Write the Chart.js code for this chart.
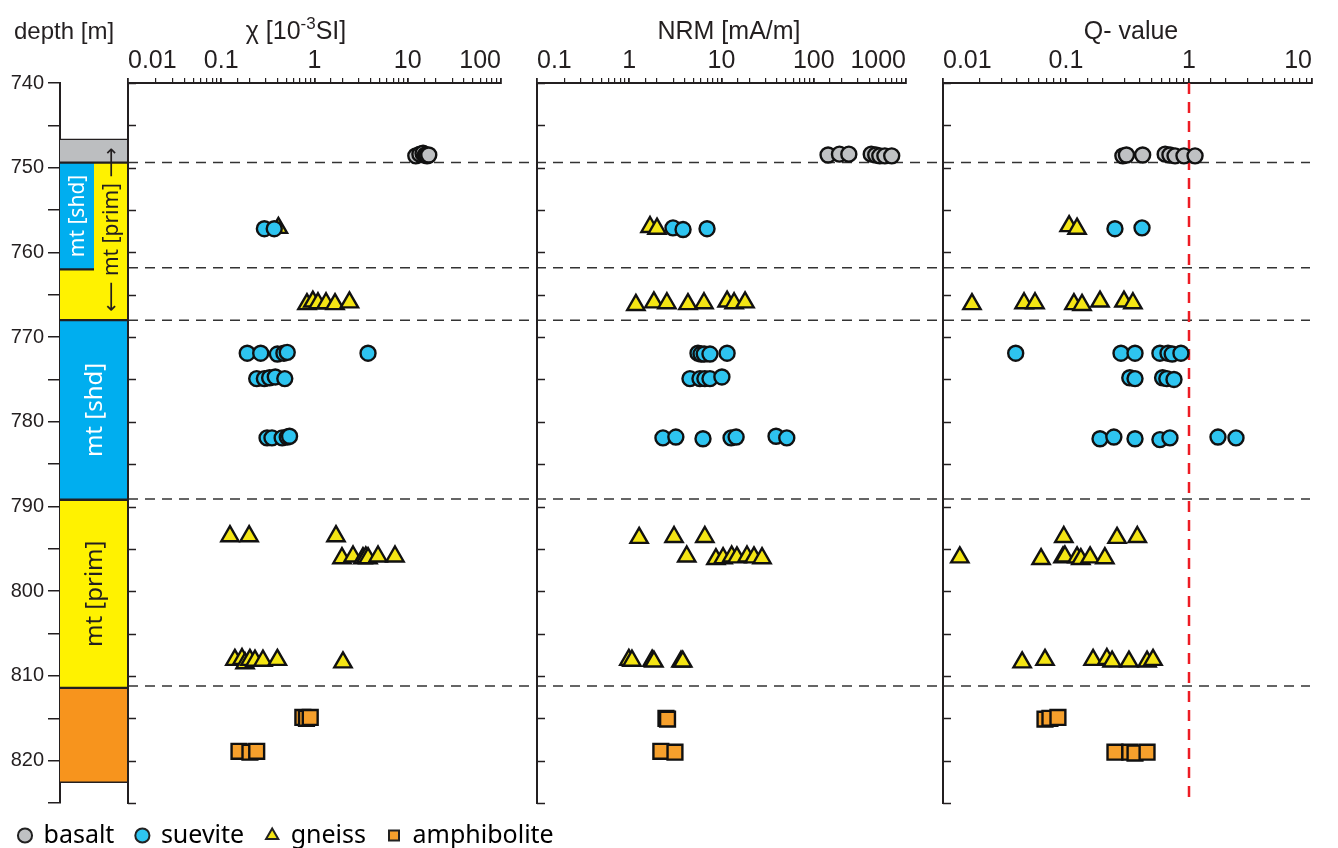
<!DOCTYPE html>
<html>
<head>
<meta charset="utf-8">
<title>Magnetic properties vs depth</title>
<script src="https://cdn.jsdelivr.net/npm/chart.js@4.4.1/dist/chart.umd.min.js"></script>
<style>
  body { margin: 0; background: #fff; }
  #wrap { position: relative; width: 1338px; height: 848px; overflow: hidden; font-family: "Liberation Sans", Arial, sans-serif; color: #231f20; }
  #wrap canvas { position: absolute; }
  .title { position: absolute; font-size: 25px; line-height: 25px; white-space: nowrap; transform: translateX(-50%); }
  .title sup { font-size: 17px; vertical-align: 10px; line-height: 0; }
</style>
</head>
<body>
<div id="wrap">
  <canvas id="boundaryChart" width="1182" height="720" style="left:128px;top:83px"></canvas>
  <canvas id="columnChart" width="128" height="848" style="left:0;top:0"></canvas>
  <canvas id="chiChart" width="413" height="848" style="left:118px;top:0"></canvas>
  <canvas id="nrmChart" width="409" height="848" style="left:527px;top:0"></canvas>
  <canvas id="qChart" width="399" height="848" style="left:933px;top:0"></canvas>
  <canvas id="legendChart" width="700" height="160" style="left:-3px;top:801px"></canvas>
  <div class="title" style="left:14px;top:18px;transform:none;font-size:24px">depth [m]</div>
  <div class="title" style="left:296px;top:18px">χ [10<sup>-3</sup>SI]</div>
  <div class="title" style="left:729px;top:18px">NRM [mA/m]</div>
  <div class="title" style="left:1131px;top:18px">Q- value</div>
</div>
<script>
// depth axis (m)
const depthMin = 740;
const depthMax = 825;
const depthStep = 5;
const boundaryDepths = [749.4, 761.8, 768.0, 789.1, 811.2];

// lithology column, [top, base] of each unit in the left and right half
const unitNames = ["basalt", "mt [shd]", "mt [prim]", "mt [shd]", "mt [prim]", "amphibolite"];
const unitLeft = [[746.6, 749.4], [749.4, 762.0], [762.0, 768.0], [768.0, 789.2], [789.2, 811.4], [811.4, 822.6]];
const unitRight = [[746.6, 749.4], null, [749.4, 768.0], [768.0, 789.2], [789.2, 811.4], [811.4, 822.6]];

// text written into the column
const columnLabels = ["mt [shd]", "\u27F5 mt [prim] \u27F6", "mt [shd]", "mt [prim]"];
const labelSpans = [[749.4, 762.0], [746.6, 768.0], [768.0, 789.2], [789.2, 811.4]];
const labelColumns = [0, 1, 0.5, 0.5];

// tick labels of the three log axes
const chiTicks = ["0.01", "0.1", "1", "10", "100"];
const nrmTicks = ["0.1", "1", "10", "100", "1000"];
const qTicks = ["0.01", "0.1", "1", "10"];
const qReference = 1;

const rockTypes = ["basalt", "suevite", "gneiss", "amphibolite"];

// susceptibility [value, depth]
const chiBasalt = [[12.2, 748.6], [13.5, 748.4], [14.6, 748.3], [15.5, 748.5], [16.1, 748.6], [16.8, 748.5]];
const chiSuevite = [[0.29, 757.2], [0.37, 757.2],
  [0.19, 771.9], [0.265, 771.9], [0.40, 772.0], [0.47, 771.9], [0.51, 771.8], [3.75, 771.9],
  [0.24, 774.9], [0.29, 774.9], [0.33, 774.8], [0.38, 774.7], [0.48, 774.9],
  [0.31, 781.9], [0.35, 781.9], [0.45, 781.9], [0.51, 781.8], [0.54, 781.7]];
const chiGneiss = [[0.41, 757.1],
  [0.83, 766.1], [0.96, 765.8], [1.09, 766.0], [1.33, 766.0], [1.66, 766.1], [2.37, 765.9],
  [0.124, 793.5], [0.199, 793.5], [1.70, 793.5],
  [1.97, 796.1], [2.59, 795.9], [3.31, 796.1], [3.55, 796.0], [3.75, 796.1], [4.8, 795.9], [7.3, 795.9],
  [0.14, 808.1], [0.167, 808.0], [0.18, 808.5], [0.203, 808.1], [0.23, 808.2], [0.28, 808.2], [0.40, 808.1], [2.02, 808.4]];
const chiAmphibolite = [[0.75, 814.9], [0.82, 815.0], [0.9, 814.9], [0.155, 818.9], [0.203, 819.0], [0.24, 818.9]];

// NRM [value, depth]
const nrmBasalt = [[143, 748.5], [190, 748.4], [240, 748.4], [420, 748.4], [470, 748.5], [520, 748.6], [590, 748.6], [700, 748.6]];
const nrmSuevite = [[2.98, 757.1], [3.83, 757.3], [6.97, 757.2],
  [5.56, 771.9], [6.0, 772.0], [6.5, 772.0], [7.5, 772.0], [11.5, 771.9],
  [4.55, 774.9], [5.84, 774.9], [6.6, 774.9], [7.5, 774.9], [10.1, 774.7],
  [2.32, 781.9], [3.2, 781.8], [6.3, 782.0], [12.7, 781.9], [14.4, 781.8], [39, 781.7], [51, 781.9]];
const nrmGneiss = [[1.68, 757.0], [2.0, 757.2],
  [1.18, 766.2], [1.85, 765.9], [2.56, 766.0], [4.33, 766.1], [6.46, 766.0], [11.5, 765.8], [13.7, 766.0], [18, 765.9],
  [1.28, 793.7], [3.06, 793.6], [6.6, 793.6],
  [4.2, 795.9], [8.7, 796.2], [10.4, 796.1], [12.9, 795.9], [14.7, 796.0], [18.9, 795.9], [22.5, 796.0], [27.5, 796.1],
  [0.99, 808.1], [1.07, 808.2], [1.77, 808.2], [1.85, 808.3], [3.64, 808.3], [3.8, 808.3]];
const nrmAmphibolite = [[2.5, 815.0], [2.6, 815.1], [2.2, 818.9], [3.13, 819.0]];

// Q-value [value, depth]
const qBasalt = [[0.29, 748.6], [0.31, 748.5], [0.42, 748.5], [0.64, 748.4], [0.70, 748.5], [0.77, 748.6], [0.91, 748.6], [1.12, 748.6]];
const qSuevite = [[0.25, 757.2], [0.415, 757.1],
  [0.039, 771.9], [0.28, 771.9], [0.364, 771.9], [0.58, 771.9], [0.675, 771.9], [0.73, 772.0], [0.86, 771.9],
  [0.33, 774.8], [0.364, 774.9], [0.61, 774.8], [0.66, 774.9], [0.755, 775.0],
  [0.189, 782.0], [0.245, 781.8], [0.364, 782.0], [0.58, 782.1], [0.70, 781.9], [1.72, 781.8], [2.41, 781.9]];
const qGneiss = [[0.106, 756.9], [0.123, 757.2],
  [0.0172, 766.1], [0.0456, 766.0], [0.056, 766.0], [0.116, 766.1], [0.135, 766.2], [0.189, 765.8], [0.296, 765.8], [0.35, 766.0],
  [0.096, 793.6], [0.26, 793.7], [0.38, 793.6],
  [0.0137, 796.0], [0.0627, 796.2], [0.0946, 796.0], [0.098, 795.9], [0.123, 796.0], [0.132, 796.2], [0.157, 796.0], [0.207, 796.1],
  [0.044, 808.4], [0.0675, 808.1], [0.166, 808.1], [0.215, 808.0], [0.237, 808.3], [0.325, 808.3], [0.456, 808.3], [0.51, 808.1]];
const qAmphibolite = [[0.0675, 815.1], [0.074, 815.0], [0.086, 814.9], [0.25, 819.0], [0.33, 819.0], [0.364, 819.1], [0.456, 819.0]];

// styles
const ink = "#231f20";
const unitColors = {
  "basalt": "#bcbec0",
  "mt [shd]": "#00aeef",
  "mt [prim]": "#fff200",
  "amphibolite": "#f7941d"
};
const labelColors = ["#ffffff", ink, "#ffffff", ink];
const labelSizes = [21, 21, 24, 24];
const rockStyle = {
  basalt: { shape: "circle", radius: 7.5, fill: "#bfc1c3" },
  suevite: { shape: "circle", radius: 7.5, fill: "#2ec4f0" },
  gneiss: { shape: "triangle", radius: 10, fill: "#f4e514" },
  amphibolite: { shape: "rect", radius: 10.5, fill: "#f6a02c" }
};

Chart.defaults.font.family = '"Liberation Sans", Arial, sans-serif';
Chart.defaults.color = ink;
Chart.defaults.animation = false;

// short inward ticks along the left axis of each panel
const innerTicks = {
  id: "innerTicks",
  afterDraw(chart) {
    const { ctx, chartArea, scales } = chart;
    ctx.save();
    ctx.strokeStyle = ink;
    ctx.lineWidth = 1.5;
    scales.y.ticks.forEach((t) => {
      const py = Math.round(scales.y.getPixelForValue(t.value)) + 0.5;
      ctx.beginPath();
      ctx.moveTo(chartArea.left, py);
      ctx.lineTo(chartArea.left + 8, py);
      ctx.stroke();
    });
    ctx.restore();
  }
};

// unit names written vertically in the column
const columnText = {
  id: "columnText",
  afterDatasetsDraw(chart) {
    const { ctx, scales } = chart;
    columnLabels.forEach((text, i) => {
      const cx = scales.x.getPixelForValue(labelColumns[i]);
      const cy = scales.y.getPixelForValue((labelSpans[i][0] + labelSpans[i][1]) / 2);
      ctx.save();
      ctx.translate(cx, cy);
      ctx.rotate(-Math.PI / 2);
      ctx.font = labelSizes[i] + 'px "Noto Sans", "DejaVu Sans", sans-serif';
      ctx.fillStyle = labelColors[i];
      ctx.textAlign = "center";
      ctx.textBaseline = "middle";
      ctx.fillText(text, 0, 1);
      ctx.restore();
    });
  }
};

// dashed unit boundaries across the three panels
new Chart(document.getElementById("boundaryChart"), {
  type: "scatter",
  data: {
    datasets: boundaryDepths.map((d) => ({
      data: [{ x: 0, y: d }, { x: 1, y: d }],
      showLine: true,
      borderColor: "#333333",
      borderWidth: 1.5,
      borderDash: [10, 7],
      pointRadius: 0
    }))
  },
  options: {
    responsive: false,
    layout: { autoPadding: false },
    plugins: { legend: { display: false }, tooltip: { enabled: false } },
    scales: {
      x: { type: "linear", min: 0, max: 1, display: false },
      y: { type: "linear", min: depthMin, max: depthMax, reverse: true, display: false }
    }
  }
});

// lithology column with depth axis
new Chart(document.getElementById("columnChart"), {
  type: "bar",
  data: {
    labels: ["left", "right"],
    datasets: unitNames.map((name, i) => ({
      label: name,
      data: [unitLeft[i], unitRight[i]],
      backgroundColor: unitColors[name],
      borderColor: ink,
      borderWidth: { top: 1.5, bottom: 1.5, left: 0, right: 0 },
      borderSkipped: false,
      grouped: false,
      categoryPercentage: 1,
      barPercentage: 1
    }))
  },
  options: {
    responsive: false,
    layout: { autoPadding: false, padding: { top: 83, bottom: 45 } },
    plugins: { legend: { display: false }, tooltip: { enabled: false } },
    scales: {
      x: { display: false },
      y: {
        min: depthMin,
        max: depthMax,
        reverse: true,
        afterFit: (s) => { s.width = 60; },
        ticks: {
          stepSize: depthStep,
          padding: 4,
          font: { size: 20 },
          callback: (v) => (v % 10 === 0 ? String(v) : "")
        },
        grid: { drawOnChartArea: false, tickLength: 12, color: ink, lineWidth: 1.5 },
        border: { color: ink, width: 2 }
      }
    }
  },
  plugins: [columnText]
});

function makePanel(id, tickLabels, series, extra, padRight) {
  const datasets = rockTypes.map((rock, i) => ({
    label: rock,
    data: series[i].map((p) => ({ x: p[0], y: p[1] })),
    pointStyle: rockStyle[rock].shape,
    pointRadius: rockStyle[rock].radius,
    pointBackgroundColor: rockStyle[rock].fill,
    pointBorderColor: "#111111",
    pointBorderWidth: 2.4
  }));
  if (extra) datasets.push(extra);

  return new Chart(document.getElementById(id), {
    type: "scatter",
    data: { datasets: datasets },
    options: {
      responsive: false,
      layout: { autoPadding: false, padding: { right: padRight, bottom: 45 } },
      plugins: { legend: { display: false }, tooltip: { enabled: false } },
      scales: {
        x: {
          type: "logarithmic",
          position: "top",
          min: Number(tickLabels[0]),
          max: Number(tickLabels[tickLabels.length - 1]),
          afterFit: (s) => { s.height = 83; },
          ticks: {
            autoSkip: false,
            maxRotation: 0,
            align: "inner",
            padding: 2,
            font: { size: 25 },
            callback: (v) => {
              const lbl = tickLabels.find((t) => Math.abs(Number(t) - v) < v * 1e-6);
              return lbl || "";
            }
          },
          grid: {
            drawOnChartArea: false,
            tickLength: 5,
            color: ink,
            lineWidth: (c) => (c.tick && c.tick.major ? 1.8 : 1.2)
          },
          border: { color: ink, width: 2 }
        },
        y: {
          min: depthMin,
          max: depthMax,
          reverse: true,
          afterFit: (s) => { s.width = 10; },
          ticks: { display: false, stepSize: depthStep },
          grid: { display: false },
          border: { color: ink, width: 2 }
        }
      }
    },
    plugins: [innerTicks]
  });
}

makePanel("chiChart", chiTicks, [chiBasalt, chiSuevite, chiGneiss, chiAmphibolite], null, 30);
makePanel("nrmChart", nrmTicks, [nrmBasalt, nrmSuevite, nrmGneiss, nrmAmphibolite], null, 30);
makePanel("qChart", qTicks, [qBasalt, qSuevite, qGneiss, qAmphibolite], {
  data: [{ x: qReference, y: depthMin }, { x: qReference, y: depthMax }],
  showLine: true,
  borderColor: "#ed1c24",
  borderWidth: 2.5,
  borderDash: [11, 8],
  pointRadius: 0,
  order: 10
}, 20);

// legend row
new Chart(document.getElementById("legendChart"), {
  type: "scatter",
  data: { datasets: [] },
  options: {
    responsive: false,
    layout: { autoPadding: false },
    scales: { x: { display: false }, y: { display: false } },
    plugins: {
      tooltip: { enabled: false },
      legend: {
        display: true,
        position: "top",
        align: "start",
        maxHeight: 100,
        labels: {
          usePointStyle: true,
          boxWidth: 12,
          boxHeight: 10,
          padding: 22,
          color: ink,
          font: { size: 25, family: '"Noto Sans", sans-serif' },
          generateLabels: () => rockTypes.map((rock) => ({
            text: rock,
            fillStyle: rockStyle[rock].fill,
            strokeStyle: "#222222",
            lineWidth: 2,
            pointStyle: rockStyle[rock].shape,
            hidden: false
          }))
        }
      }
    }
  }
});
</script>
</body>
</html>
